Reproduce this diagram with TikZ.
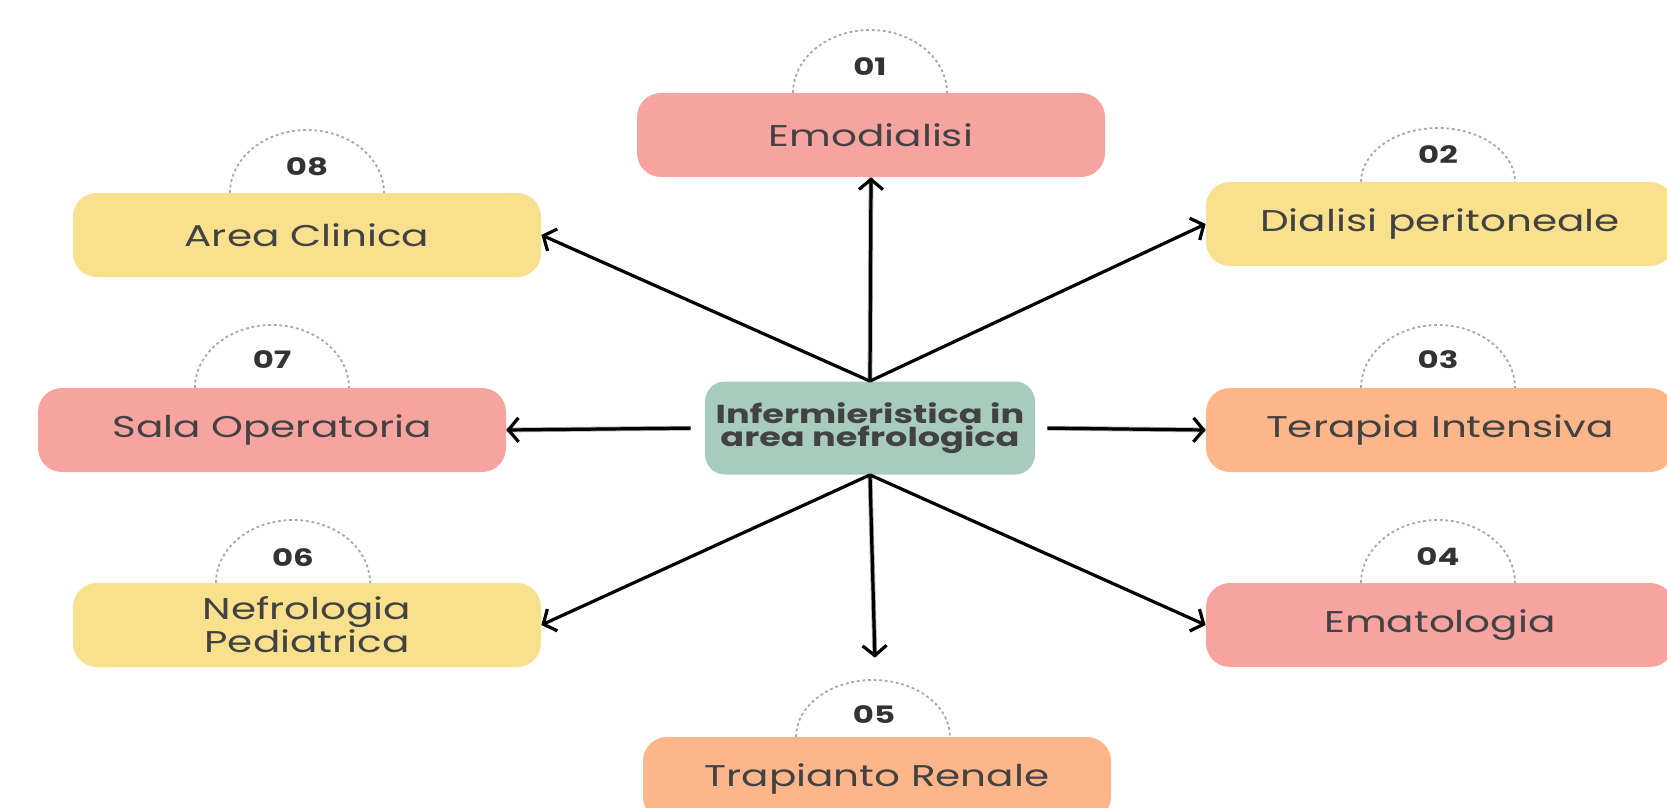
\documentclass[tikz,border=0pt]{standalone}
\usepackage{fontspec}
\newfontfamily\labfont[FakeStretch=1.35]{Poppins}
\usetikzlibrary{arrows.meta}
\definecolor{cpink}{HTML}{F7A4A1}
\definecolor{cyellow}{HTML}{F8E08C}
\definecolor{corange}{HTML}{FDB68A}
\definecolor{cteal}{HTML}{A7CCBD}
\definecolor{txt}{HTML}{424242}
\definecolor{numc}{HTML}{333333}
\definecolor{arcc}{HTML}{A8A8A8}
\tikzset{
  box/.style={rounded corners=12pt, minimum width=234pt, minimum height=42pt, inner sep=0pt,
    text=txt, font=\labfont\fontsize{15}{14}\selectfont, align=center},
  hubbox/.style={rounded corners=10pt, minimum width=165pt, minimum height=46.5pt, inner sep=0pt,
    fill=cteal, text=txt, font=\labfont\bfseries\fontsize{13}{11.5}\selectfont, align=center},
  num/.style={font=\labfont\bfseries\fontsize{12}{12}\selectfont, text=numc, inner sep=0pt},
  arcst/.style={draw=arcc, line width=0.9pt, dash pattern=on 1.4pt off 1.4pt},
  arr/.style={line width=1.6pt, -{Straight Barb[length=5pt,width=12pt,line width=1.6pt]}},
  arrax/.style={line width=2.4pt, draw=black!35},
}
\begin{document}
\begin{tikzpicture}[x=0.5pt,y=-0.5pt]
\useasboundingbox (0,0) rectangle (1667,808);
\fill[white] (0,0) rectangle (1667,808);

% arcs (behind boxes)
\draw[arcst] (793,93) arc[start angle=180,end angle=0,x radius=38.5pt,y radius=31.5pt];
\draw[arcst] (1361,182) arc[start angle=180,end angle=0,x radius=38.5pt,y radius=27pt];
\draw[arcst] (1361,388) arc[start angle=180,end angle=0,x radius=38.5pt,y radius=31.5pt];
\draw[arcst] (1361,583) arc[start angle=180,end angle=0,x radius=38.5pt,y radius=31.5pt];
\draw[arcst] (796,737) arc[start angle=180,end angle=0,x radius=38.5pt,y radius=28.5pt];
\draw[arcst] (216,583) arc[start angle=180,end angle=0,x radius=38.5pt,y radius=31.5pt];
\draw[arcst] (195,388) arc[start angle=180,end angle=0,x radius=38.5pt,y radius=31.5pt];
\draw[arcst] (230,193) arc[start angle=180,end angle=0,x radius=38.5pt,y radius=31.5pt];

% boxes
\node[box, fill=cpink] (emo) at (871,135) {Emodialisi};
\node[box, fill=cyellow] (dial) at (1440,224) {Dialisi peritoneale};
\node[box, fill=corange] (ter) at (1440,430) {Terapia Intensiva};
\node[box, fill=cpink] (ema) at (1440,625) {Ematologia};
\node[box, fill=corange] (trap) at (877,779) {Trapianto Renale};
\node[box, fill=cyellow] (nef) at (307,625) {Nefrologia\\Pediatrica};
\node[box, fill=cpink] (sala) at (272,430) {Sala Operatoria};
\node[box, fill=cyellow] (area) at (307,235) {Area Clinica};
\node[hubbox] (c) at (870,428) {Infermieristica in\\area nefrologica};

% numbers
\node[num] (n01) at (870,67) {01};
\node[num] (n02) at (1438,155) {02};
\node[num] (n03) at (1438,360) {03};
\node[num] (n04) at (1438,557) {04};
\node[num] (n05) at (874,715) {05};
\node[num] (n06) at (293,558) {06};
\node[num] (n07) at (272,360) {07};
\node[num] (n08) at (307,167) {08};

% connectors
\draw[arrax] (c.north) -- (emo.south);
\draw[arrax, shorten >=40pt] (c.south) -- (trap.north);
\draw[arrax, shorten <=7pt] (c.west) -- (sala.east);
\draw[arrax, shorten <=6pt] (c.east) -- (ter.west);
\draw[arr] (c.north) -- (emo.south);
\draw[arr] (c.north) -- (area.east);
\draw[arr] (c.north) -- (dial.west);
\draw[arr] (c.south) -- (nef.east);
\draw[arr] (c.south) -- (ema.west);
\draw[arr, shorten >=39.5pt] (c.south) -- (trap.north);
\draw[arr, shorten <=7pt] (c.west) -- (sala.east);
\draw[arr, shorten <=6pt] (c.east) -- (ter.west);
\end{tikzpicture}
\end{document}
